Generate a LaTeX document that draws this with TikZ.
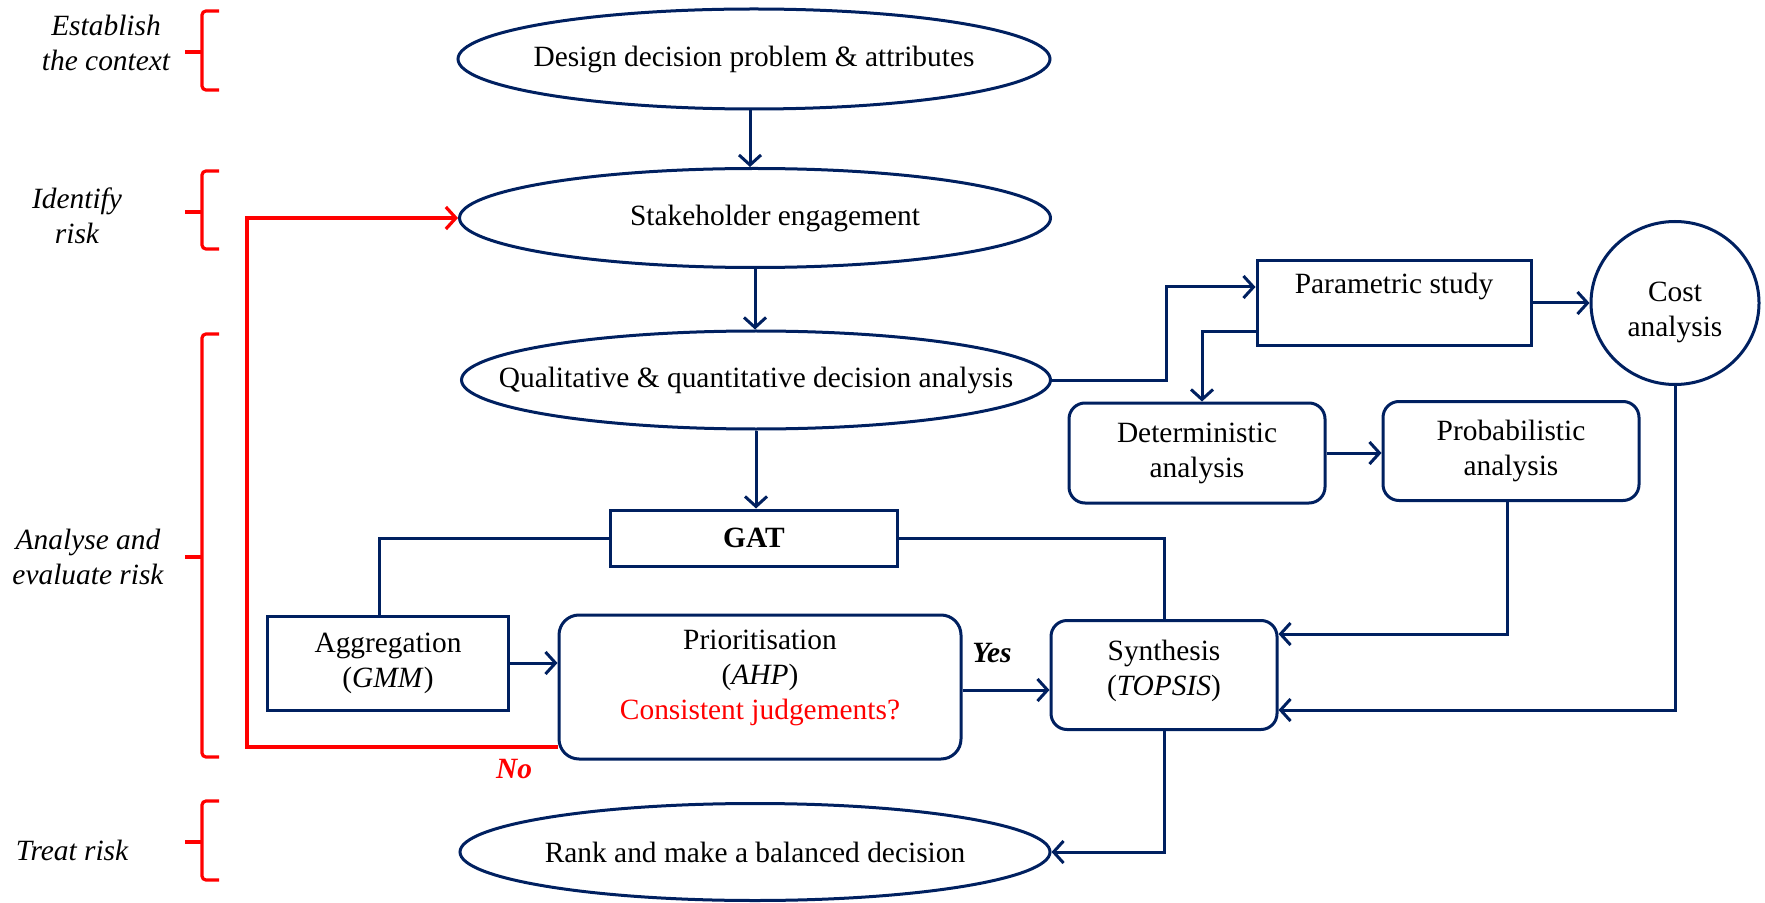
\documentclass[tikz,border=0pt]{standalone}
\usepackage{fontspec}
\setmainfont{Liberation Serif}
\usetikzlibrary{arrows.meta,shapes.geometric}
\definecolor{navy}{RGB}{0,32,96}
\definecolor{alarm}{RGB}{255,0,0}
\begin{document}
\begin{tikzpicture}[x=0.5pt,y=-0.5pt,
  every node/.style={font=\fontsize{14.7pt}{17.5pt}\selectfont, inner sep=0pt, align=center},
  stage/.style={ellipse, draw=navy, line width=1.5pt},
  boxnode/.style={rectangle, draw=navy, line width=1.5pt},
  roundbox/.style={rectangle, rounded corners=8pt, draw=navy, line width=1.5pt},
  flow/.style={draw=navy, line width=1.5pt},
  arr/.style={flow, -{Straight Barb[length=5pt,width=11pt]}},
  loopback/.style={draw=alarm, line width=1.6pt, -{Straight Barb[length=5pt,width=11pt]}},
  brace/.style={draw=alarm, line width=1.6pt, rounded corners=2pt},
  phase/.style={font=\fontsize{14.7pt}{17.5pt}\selectfont\itshape},
]
\useasboundingbox (0,0) rectangle (1765,903);

% main flow (ellipses)
\node[stage, minimum width=296pt, minimum height=50pt,
      label={center:Design decision problem \& attributes}] (design) at (754,59) {};
\node[stage, minimum width=295.5pt, minimum height=49.5pt,
      label={[xshift=10pt]center:Stakeholder engagement}] (stake) at (755,218) {};
\node[stage, minimum width=294.5pt, minimum height=49pt,
      label={center:Qualitative \& quantitative decision analysis}] (qual) at (756,380) {};
\node[stage, minimum width=295pt, minimum height=48.5pt,
      label={center:Rank and make a balanced decision}] (rank) at (755,852) {};

% GAT block
\node[boxnode, minimum width=143.5pt, minimum height=28pt] (gat) at (754,538) {\textbf{GAT}};
\node[boxnode, minimum width=120.5pt, minimum height=47pt] (agg) at (388,663) {Aggregation\\(\textit{GMM})};
\node[roundbox, rounded corners=10pt, minimum width=201pt, minimum height=72pt] (prio) at (760,687)
  {Prioritisation\\(\textit{AHP})\\\textcolor{alarm}{Consistent judgements?}\\[-5pt]\mbox{}};
\node[roundbox, minimum width=113pt, minimum height=54.5pt] (synth) at (1164,675) {Synthesis\\(\textit{TOPSIS})\\[-10pt]\mbox{}};

% parametric branch
\node[boxnode, minimum width=137pt, minimum height=42.5pt] (param) at (1394,303) {Parametric study\\[2pt]\mbox{}};
\node[stage, minimum width=84pt, minimum height=81.5pt] (cost) at (1675,303) {Cost\\analysis\\[-24pt]\mbox{}};
\node[roundbox, minimum width=128pt, minimum height=50pt] (det) at (1197,453) {Deterministic\\analysis};
\node[roundbox, minimum width=128pt, minimum height=49.5pt] (prob) at (1511,451) {Probabilistic\\analysis};

% connectors
\coordinate (k0) at (750,0);
\draw[arr] (design.south -| k0) -- (k0 |- stake.north);
\draw[arr] (stake.south) -- (stake.south |- qual.north);
\draw[arr] (qual.south) -- (qual.south |- gat.north);

\coordinate (k1) at (1166,287);
\draw[arr] (qual.east) -| (k1) -- (param.west |- k1);
\coordinate (k2) at (1202,332);
\draw[arr] (param.west |- k2) -| (det.north -| k2);
\draw[arr] (param.east) -- (cost.west);
\draw[arr] (det.east) -- (det.east -| prob.west);
\coordinate (k3) at (1507,634);
\draw[arr] (prob.south -| k3) |- (synth.east |- k3);
\coordinate (k4) at (1676,710);
\draw[arr] (cost.south) |- (synth.east |- k4);

\coordinate (k5) at (379,540);
\draw[flow] (gat.west) -| (agg.north -| k5);
\draw[flow] (gat.east) -| (synth.north);
\draw[arr] (agg.east) -- (agg.east -| prio.west);
\coordinate (k6) at (961,690);
\draw[arr] (prio.east |- k6) -- (synth.west |- k6);
\node (yes) at (992,653) {\textbf{\textit{Yes}}};
\draw[arr] (synth.south) |- (rank.east);

% feedback loop when judgements are inconsistent
\coordinate (k7) at (247,747);
\draw[loopback] (prio.west |- k7) -- (k7) |- (stake.west);
\node (no) at (514,769) {\textcolor{alarm}{\textbf{\textit{No}}}};

% risk-process braces and phase labels
\draw[brace] (219,11) -- (202,11) -- (202,90) -- (219,90);
\draw[brace] (185,52) -- (202,52);
\draw[brace] (219,171) -- (202,171) -- (202,249) -- (219,249);
\draw[brace] (185,212) -- (202,212);
\draw[brace] (219,334) -- (202,334) -- (202,757) -- (219,757);
\draw[brace] (185,557) -- (202,557);
\draw[brace] (219,801) -- (202,801) -- (202,880) -- (219,880);
\draw[brace] (185,842) -- (202,842);

\node[phase] (ctx) at (106,43) {Establish\\the context};
\node[phase] (idr) at (77,216) {Identify\\risk};
\node[phase] (ana) at (88,557) {Analyse and\\evaluate risk};
\node[phase] (trt) at (72,850) {Treat risk};
\end{tikzpicture}
\end{document}
